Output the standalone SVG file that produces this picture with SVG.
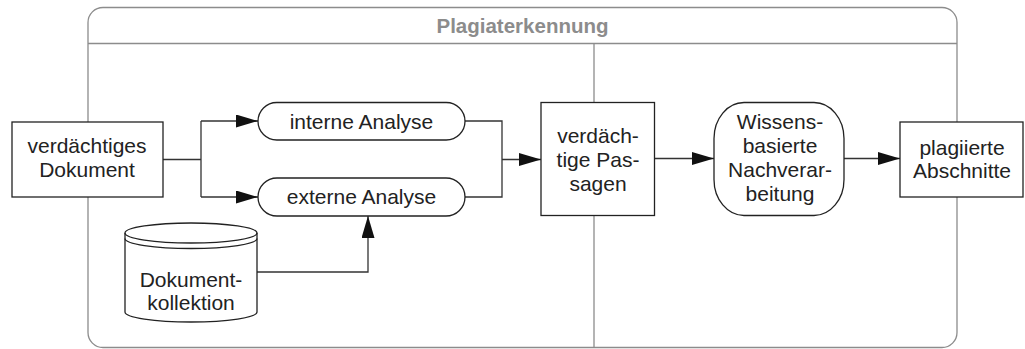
<svg xmlns="http://www.w3.org/2000/svg" width="1025" height="349" viewBox="0 0 1025 349">
<style>
.frame{fill:none;stroke:#8c8c8c;stroke-width:1.3}
.node{fill:#fff;stroke:#222;stroke-width:1.3}
.conn{fill:none;stroke:#333;stroke-width:1.3}
.t{font-family:"Liberation Sans",Arial,sans-serif;font-size:21px;fill:#222;text-anchor:middle}
.title{font-family:"Liberation Sans",Arial,sans-serif;font-size:20.5px;font-weight:bold;fill:#8c8c8c;text-anchor:middle}
</style>
<defs>
<marker id="arr" viewBox="0 0 22 13" refX="22" refY="6.5" markerWidth="22" markerHeight="13" markerUnits="userSpaceOnUse" orient="auto">
<path d="M0,0 L22,6.5 L0,13 Z" fill="#111"/>
</marker>
</defs>
<g id="frame">
<rect class="frame" x="88" y="7.5" width="869" height="340" rx="15" ry="15"/>
<line class="frame" x1="88" y1="43.5" x2="957" y2="43.5"/>
<line class="frame" x1="594" y1="43.5" x2="594" y2="347.5"/>
<text class="title" x="522.5" y="33">Plagiaterkennung</text>
</g>
<g id="connectors">
<path class="conn" d="M163,159.5 H201 M201,121 V197"/>
<path class="conn" d="M201,121 H258" marker-end="url(#arr)"/>
<path class="conn" d="M201,197 H258" marker-end="url(#arr)"/>
<path class="conn" d="M465,121 H502 V197 H465"/>
<path class="conn" d="M502,159.5 H541" marker-end="url(#arr)"/>
<path class="conn" d="M654.5,158.5 H714" marker-end="url(#arr)"/>
<path class="conn" d="M844,158.5 H900" marker-end="url(#arr)"/>
<path class="conn" d="M257,272 H368 V216" marker-end="url(#arr)"/>
</g>
<g id="n-dokument">
<rect class="node" x="12" y="122" width="151" height="75"/>
<text class="t" x="87" y="153">verdächtiges</text>
<text class="t" x="87" y="177">Dokument</text>
</g>
<g id="n-interne">
<rect class="node" x="258" y="102.5" width="207" height="37.5" rx="18.75" ry="18.75"/>
<text class="t" x="361.5" y="128.5">interne Analyse</text>
</g>
<g id="n-externe">
<rect class="node" x="258" y="178" width="207" height="38" rx="19" ry="19"/>
<text class="t" x="361.5" y="204">externe Analyse</text>
</g>
<g id="n-kollektion">
<path class="node" d="M125,233 V312 A66,10 0 0 0 257,312 V233 A66,10 0 0 0 125,233 Z"/>
<path class="node" style="fill:none" d="M125,233 A66,10 0 0 0 257,233"/>
<path class="node" style="fill:none" d="M125,238.5 A66,10 0 0 0 257,238.5"/>
<text class="t" x="191" y="286.5">Dokument-</text>
<text class="t" x="191" y="310">kollektion</text>
</g>
<g id="n-passagen">
<rect class="node" x="541" y="102.5" width="113.5" height="113"/>
<text class="t" x="598" y="143">verdäch-</text>
<text class="t" x="598" y="167">tige Pas-</text>
<text class="t" x="598" y="190.5">sagen</text>
</g>
<g id="n-wissens">
<rect class="node" x="714" y="102.5" width="130" height="113" rx="30" ry="36"/>
<text class="t" x="780" y="128.5">Wissens-</text>
<text class="t" x="780" y="152.5">basierte</text>
<text class="t" x="780" y="176.5">Nachverar-</text>
<text class="t" x="780" y="200.5">beitung</text>
</g>
<g id="n-plagiierte">
<rect class="node" x="900" y="122" width="123" height="75"/>
<text class="t" x="962" y="155">plagiierte</text>
<text class="t" x="962" y="178">Abschnitte</text>
</g>
</svg>
